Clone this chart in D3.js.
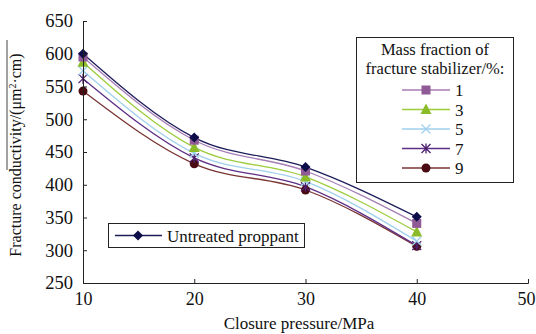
<!DOCTYPE html>
<html>
<head>
<meta charset="utf-8">
<script src="https://cdn.jsdelivr.net/npm/d3@7"></script>
<style>
  body { margin: 0; background: #fff; }
  text { font-family: "Liberation Serif", "DejaVu Serif", serif; fill: #111; }
</style>
</head>
<body>
<div id="graph"></div>
<script>
// data
const pressure = [10, 20, 30, 40];
const untreated = [600, 472, 427, 351];
const frac1 = [595, 468, 421, 341];
const frac3 = [587, 457, 412, 328];
const frac5 = [574, 448, 405, 314];
const frac7 = [562, 441, 397, 307];
const frac9 = [543, 432, 392, 306];
const fracLabels = ['1', '3', '5', '7', '9'];
const xTicks = [10, 20, 30, 40, 50];
const yTicks = [250, 300, 350, 400, 450, 500, 550, 600, 650];

const w = 536, h = 334;
const padding_left = 83, padding_right = 8, padding_top = 21, padding_bottom = 51;

const svg = d3.select('#graph').append('svg')
    .attr('width', w).attr('height', h);

const xScale = d3.scaleLinear().domain([10, 50]).range([padding_left, w - padding_right]);
const yScale = d3.scaleLinear().domain([250, 650]).range([h - padding_bottom, padding_top]);

const series = [
  {name: 'Untreated proppant', values: untreated, line: '#1c1c5a', fill: '#0d0d4a', shape: 'diamond'},
  {name: fracLabels[0], values: frac1, line: '#a77db5', fill: '#8f5a95', shape: 'square'},
  {name: fracLabels[1], values: frac3, line: '#9ccc3c', fill: '#8cbb2a', shape: 'triangle'},
  {name: fracLabels[2], values: frac5, line: '#9fd0ec', fill: '#9fd0ec', shape: 'x'},
  {name: fracLabels[3], values: frac7, line: '#5e2f86', fill: '#4e2070', shape: 'star'},
  {name: fracLabels[4], values: frac9, line: '#7a3434', fill: '#4a0a12', shape: 'circle'}
];

function marker(g, s, x, y) {
  if (s.shape === 'diamond') {
    g.append('path').attr('d', `M${x},${y-5}L${x+5},${y}L${x},${y+5}L${x-5},${y}Z`).attr('fill', s.fill);
  } else if (s.shape === 'square') {
    g.append('rect').attr('x', x-4.5).attr('y', y-4.5).attr('width', 9).attr('height', 9).attr('fill', s.fill);
  } else if (s.shape === 'triangle') {
    g.append('path').attr('d', `M${x},${y-6}L${x+5.5},${y+4.5}L${x-5.5},${y+4.5}Z`).attr('fill', s.fill);
  } else if (s.shape === 'x') {
    g.append('path').attr('d', `M${x-4.5},${y-4.5}L${x+4.5},${y+4.5}M${x-4.5},${y+4.5}L${x+4.5},${y-4.5}`)
      .attr('stroke', s.fill).attr('stroke-width', 1.3);
  } else if (s.shape === 'star') {
    g.append('path').attr('d', `M${x-4.5},${y-4.5}L${x+4.5},${y+4.5}M${x-4.5},${y+4.5}L${x+4.5},${y-4.5}M${x},${y-5}L${x},${y+5}`)
      .attr('stroke', s.fill).attr('stroke-width', 1.3);
  } else {
    g.append('circle').attr('cx', x).attr('cy', y).attr('r', 4.5).attr('fill', s.fill);
  }
}

const line = d3.line()
    .x((d, i) => xScale(pressure[i]))
    .y(d => yScale(d))
    .curve(d3.curveMonotoneX);

// lines (draw from bottom series up so upper ones sit on top)
series.slice().reverse().forEach(s => {
  svg.append('path').attr('d', line(s.values))
    .attr('fill', 'none').attr('stroke', s.line).attr('stroke-width', 1.3);
});
series.slice().reverse().forEach(s => {
  const g = svg.append('g');
  s.values.forEach((v, i) => marker(g, s, xScale(pressure[i]), yScale(v)));
});

// x-Axis
const xAxis = d3.axisBottom(xScale).tickValues(xTicks).tickSizeInner(-4).tickSizeOuter(-4).tickPadding(9);
const gx = svg.append('g')
    .attr('transform', 'translate(0,' + (h - padding_bottom) + ')')
    .call(xAxis);
gx.selectAll('text').style('font-size', '18px');
gx.selectAll('.tick:last-of-type text').attr('dx', -2);

// y-Axis
const yAxis = d3.axisLeft(yScale).tickValues(yTicks).tickSizeInner(-4).tickSizeOuter(0).tickPadding(10);
const gy = svg.append('g')
    .attr('transform', 'translate(' + padding_left + ',0)')
    .call(yAxis);
gy.selectAll('text').style('font-size', '18.5px');
svg.selectAll('.domain, .tick line').attr('stroke', '#222').attr('stroke-width', 1);

// axis labels
svg.append('text')
    .text('Closure pressure/MPa')
    .attr('x', 299).attr('y', 329)
    .attr('text-anchor', 'middle').style('font-size', '17px');
const yl = svg.append('text')
    .attr('transform', 'translate(21,' + 155 + ') rotate(-90)')
    .attr('text-anchor', 'middle').style('font-size', '16px');
yl.append('tspan').text('Fracture conductivity/(μm');
yl.append('tspan').text('2').attr('dy', -5).style('font-size', '10px');
yl.append('tspan').text('·cm)').attr('dy', 5);
svg.append('line').attr('x1', 7).attr('x2', 7).attr('y1', 40).attr('y2', 170)
    .attr('stroke', '#444').attr('stroke-width', 1);

// legend: fracture stabilizer
const lg = svg.append('g');
lg.append('rect').attr('x', 356.5).attr('y', 37.5).attr('width', 157).attr('height', 145)
    .attr('fill', '#fff').attr('stroke', '#222');
lg.append('text').text('Mass fraction of').attr('x', 435).attr('y', 55)
    .attr('text-anchor', 'middle').style('font-size', '16.5px');
lg.append('text').text('fracture stabilizer/%:').attr('x', 435).attr('y', 74)
    .attr('text-anchor', 'middle').style('font-size', '16.5px');
series.slice(1).forEach((s, i) => {
  const y = 90 + i * 19.5;
  lg.append('line').attr('x1', 402).attr('x2', 450).attr('y1', y).attr('y2', y)
    .attr('stroke', s.line).attr('stroke-width', 1.3);
  marker(lg, s, 426, y);
  lg.append('text').text(s.name).attr('x', 455).attr('y', y + 6).style('font-size', '17px');
});

// legend: untreated
const lu = svg.append('g');
lu.append('rect').attr('x', 108.5).attr('y', 223.5).attr('width', 196).attr('height', 24)
    .attr('fill', '#fff').attr('stroke', '#222');
lu.append('line').attr('x1', 115).attr('x2', 162).attr('y1', 235.5).attr('y2', 235.5)
    .attr('stroke', series[0].line).attr('stroke-width', 1.3);
marker(lu, series[0], 138, 235.5);
lu.append('text').text(series[0].name).attr('x', 167).attr('y', 241.5).style('font-size', '17px');
</script>
</body>
</html>
